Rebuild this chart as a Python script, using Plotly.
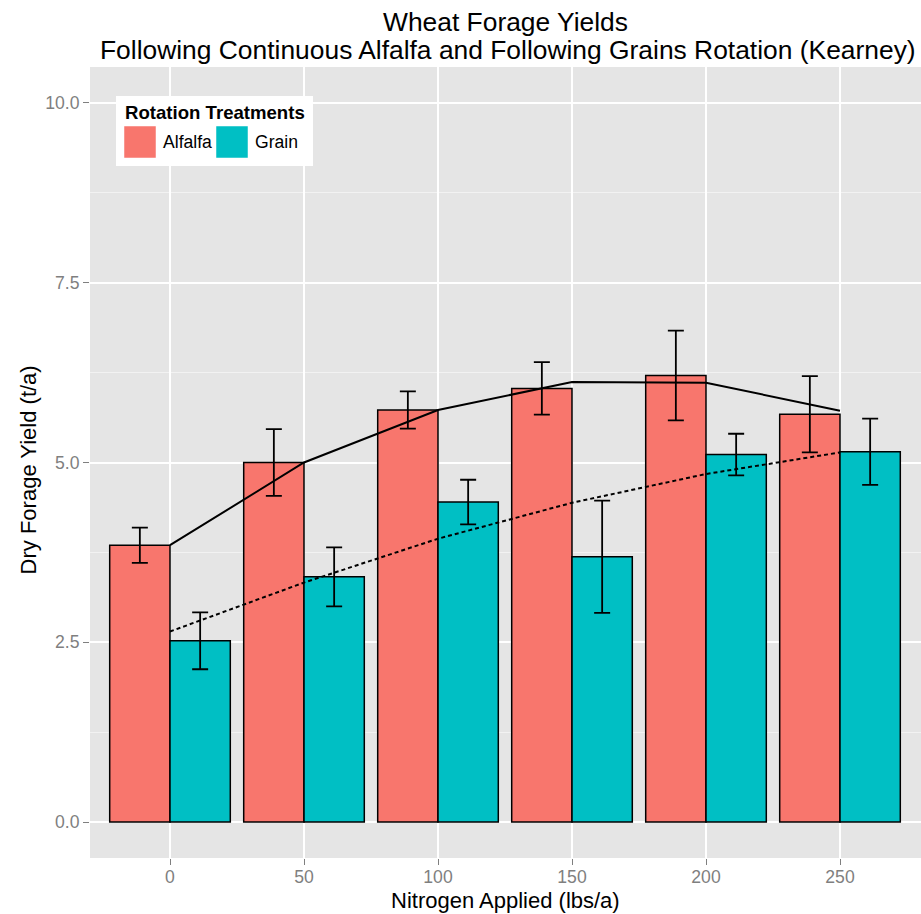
import plotly.graph_objects as go

# ---- data ----
nitrogen = [0, 50, 100, 150, 200, 250]
alfalfa_yield = [3.85, 5.00, 5.73, 6.03, 6.21, 5.67]
alfalfa_err = [0.245, 0.465, 0.26, 0.365, 0.625, 0.53]
grain_yield = [2.52, 3.41, 4.45, 3.69, 5.11, 5.15]
grain_err = [0.395, 0.41, 0.31, 0.78, 0.29, 0.46]
alfalfa_fit = [3.85, 5.00, 5.73, 6.12, 6.11, 5.72]
grain_fit = [2.65, 3.33, 3.94, 4.44, 4.84, 5.14]
y_ticks = [0, 2.5, 5, 7.5, 10]
y_ticklabels = ["0.0", "2.5", "5.0", "7.5", "10.0"]
y_minor = [1.25, 3.75, 6.25, 8.75]
treatments = ["Alfalfa", "Grain"]
colors = ["#F8766D", "#00BFC4"]

FONT = "Liberation Sans, Arial, Helvetica, sans-serif"
W, H = 921, 914
ML, MR, MT, MB = 90, 0, 67, 56
PW, PH = W - ML - MR, H - MT - MB


def px_x(p):
    return (p - ML) / PW


def px_y(p):
    return (H - MB - p) / PH


fig = go.Figure()
for name, ys, es, col in [(treatments[0], alfalfa_yield, alfalfa_err, colors[0]),
                          (treatments[1], grain_yield, grain_err, colors[1])]:
    fig.add_trace(go.Bar(
        x=nitrogen, y=ys, name=name,
        marker=dict(color=col, line=dict(color="black", width=1.5)),
        error_y=dict(type="data", array=es, visible=True, color="black",
                     thickness=1.8, width=8),
        showlegend=False,
    ))

fig.add_trace(go.Scatter(x=nitrogen, y=alfalfa_fit, mode="lines",
                         line=dict(color="black", width=2), showlegend=False))
fig.add_trace(go.Scatter(x=nitrogen, y=grain_fit, mode="lines",
                         line=dict(color="black", width=2, dash="4px,3px"),
                         showlegend=False))

x0 = -(170 - ML) / 2.68
x1 = (W - 170) / 2.68

fig.update_layout(
    width=W, height=H,
    margin=dict(l=ML, r=MR, t=MT, b=MB, pad=0),
    paper_bgcolor="white", plot_bgcolor="#E5E5E5",
    barmode="group", bargap=0.1, bargroupgap=0,
    font=dict(family=FONT, color="black"),
    xaxis=dict(range=[x0, x1], tickvals=nitrogen, ticktext=[str(v) for v in nitrogen],
               showgrid=True, gridcolor="white", gridwidth=1.5, zeroline=False,
               ticks="outside", ticklen=6, tickcolor="#7F7F7F", tickwidth=1,
               ticklabelstandoff=-3,
               tickfont=dict(size=17.6, color="#7F7F7F", family=FONT),
               showline=False),
    yaxis=dict(range=[-0.5, 10.5], tickvals=y_ticks, ticktext=y_ticklabels,
               showgrid=True, gridcolor="white", gridwidth=1.5, zeroline=False,
               ticks="outside", ticklen=6, tickcolor="#7F7F7F", tickwidth=1,
               tickfont=dict(size=17.6, color="#7F7F7F", family=FONT),
               minor=dict(tickvals=y_minor, showgrid=True, gridcolor="#F2F2F2",
                          gridwidth=1),
               showline=False),
)

ann = []
ann.append(dict(text="Wheat Forage Yields", x=0.5, y=px_y(21.5), xref="paper", yref="paper",
                xanchor="center", yanchor="middle", showarrow=False,
                font=dict(size=26.4, family=FONT, color="black")))
ann.append(dict(text="Following Continuous Alfalfa and Following Grains Rotation (Kearney)",
                x=0.503, y=px_y(50), xref="paper", yref="paper",
                xanchor="center", yanchor="middle", showarrow=False,
                font=dict(size=26.4, family=FONT, color="black")))
ann.append(dict(text="Nitrogen Applied (lbs/a)", x=0.5, y=px_y(900), xref="paper", yref="paper",
                xanchor="center", yanchor="middle", showarrow=False,
                font=dict(size=22, family=FONT, color="black")))
ann.append(dict(text="Dry Forage Yield (t/a)", x=px_x(28), y=0.49, xref="paper", yref="paper",
                xanchor="center", yanchor="middle", showarrow=False, textangle=-90,
                font=dict(size=22, family=FONT, color="black")))

# manual legend
shapes = [dict(type="rect", xref="paper", yref="paper",
               x0=px_x(116), x1=px_x(313), y0=px_y(166), y1=px_y(96),
               fillcolor="white", line=dict(width=0), layer="above")]
key_x = [124, 216]
label_x = [160.5, 252.5]
for i, name in enumerate(treatments):
    shapes.append(dict(type="rect", xref="paper", yref="paper",
                       x0=px_x(key_x[i]), x1=px_x(key_x[i] + 32),
                       y0=px_y(158), y1=px_y(126),
                       fillcolor=colors[i], line=dict(width=0.5, color="#FFFFFF"),
                       layer="above"))
    ann.append(dict(text=name, x=px_x(label_x[i]), y=px_y(142), xref="paper", yref="paper",
                    xanchor="left", yanchor="middle", showarrow=False,
                    font=dict(size=17.6, family=FONT, color="black")))
ann.append(dict(text="<b>Rotation Treatments</b>", x=px_x(123), y=px_y(112), xref="paper",
                yref="paper", xanchor="left", yanchor="middle", showarrow=False,
                font=dict(size=18.6, family=FONT, color="black")))

fig.update_layout(annotations=ann, shapes=shapes)
fig.write_html("out.html")
